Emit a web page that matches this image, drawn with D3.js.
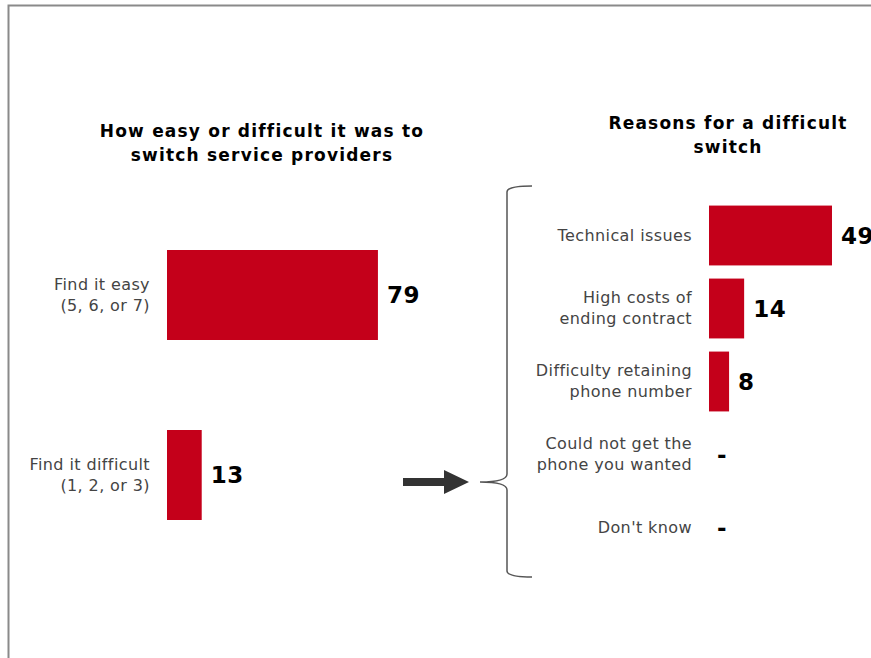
<!DOCTYPE html>
<html>
<head>
<meta charset="utf-8">
<script src="https://cdn.jsdelivr.net/npm/d3@7"></script>
<style>
  body { margin: 0; background: #fff; }
  text { font-family: "DejaVu Sans", Verdana, sans-serif; }
</style>
</head>
<body>
<div id="chart"></div>
<script>
// data
const easeCats = [["Find it easy", "(5, 6, or 7)"], ["Find it difficult", "(1, 2, or 3)"]];
const easeVals = [79, 13];
const reasonCats = [["Technical issues"], ["High costs of", "ending contract"], ["Difficulty retaining", "phone number"], ["Could not get the", "phone you wanted"], ["Don't know"]];
const reasonVals = [49, 14, 8, null, null];

const width = 871, height = 658;
const red = "#c4001a";

const svg = d3.select("#chart").append("svg")
    .attr("width", width)
    .attr("height", height);

// frame
svg.append("path")
    .attr("d", "M8.5,660 V5.5 H871")
    .attr("fill", "none")
    .attr("stroke", "#8a8a8a")
    .attr("stroke-width", 2);

// ---- left panel
const xL = d3.scaleLinear().domain([0, 100]).range([167, 434]);
const yL = d3.scaleBand().domain(d3.range(easeVals.length)).range([250, 520]).paddingInner(0.5);

const title = function(lines, x, y0) {
  svg.append("text")
    .attr("x", x).attr("y", y0)
    .attr("text-anchor", "middle")
    .style("font-weight", "bold")
    .style("font-size", "17px")
    .style("letter-spacing", "1.2px")
    .style("fill", "#000")
    .selectAll("tspan")
    .data(lines)
    .join("tspan")
      .attr("x", x)
      .attr("dy", (d, i) => i ? 24 : 0)
      .text(d => d);
};

title(["How easy or difficult it was to", "switch service providers"], 262, 137);
title(["Reasons for a difficult", "switch"], 728, 129);

const drawPanel = function(cats, vals, x, y, labelX) {
  const g = svg.append("g");
  g.selectAll("rect")
    .data(vals.map((v, i) => ({v, i})).filter(d => d.v != null))
    .join("rect")
      .attr("x", x(0))
      .attr("y", d => y(d.i))
      .attr("width", d => x(d.v) - x(0))
      .attr("height", y.bandwidth())
      .attr("fill", red);

  g.selectAll(".cat")
    .data(cats)
    .join("text")
      .attr("class", "cat")
      .attr("text-anchor", "end")
      .style("font-size", "16px")
      .style("letter-spacing", "0.4px")
      .style("fill", "#444")
      .attr("y", (d, i) => y(i) + y.bandwidth() / 2 - (d.length - 1) * 10.5 + 5)
      .each(function(d) {
        const t = d3.select(this);
        d.forEach((line, j) => {
          t.append("tspan").attr("x", labelX).attr("dy", j ? 21 : 0).text(line);
        });
      });

  g.selectAll(".val")
    .data(vals)
    .join("text")
      .attr("class", "val")
      .attr("x", d => d == null ? x(0) + 8 : x(d) + 9)
      .attr("y", (d, i) => y(i) + y.bandwidth() / 2 + 8)
      .style("font-size", "23px")
      .style("letter-spacing", "0.6px")
      .style("font-weight", "bold")
      .style("fill", "#000")
      .text(d => d == null ? "-" : d);
};

drawPanel(easeCats, easeVals, xL, yL, 150);

// ---- right panel
const xR = d3.scaleLinear().domain([0, 100]).range([709, 960]);
const yR = d3.scaleBand().domain(d3.range(reasonVals.length)).range([199, 564]).paddingInner(0.18).paddingOuter(0.09);
drawPanel(reasonCats, reasonVals, xR, yR, 692);

// brace
svg.append("path")
    .attr("d", "M532,186 Q507,186 507,192 V474 Q507,482 480,482 Q507,482 507,490 V571 Q507,577 532,577")
    .attr("fill", "none")
    .attr("stroke", "#555")
    .attr("stroke-width", 1.5);

// arrow
svg.append("path")
    .attr("d", "M403,478 H444 V470 L469,482 L444,494 V486 H403 Z")
    .attr("fill", "#333");
</script>
</body>
</html>
